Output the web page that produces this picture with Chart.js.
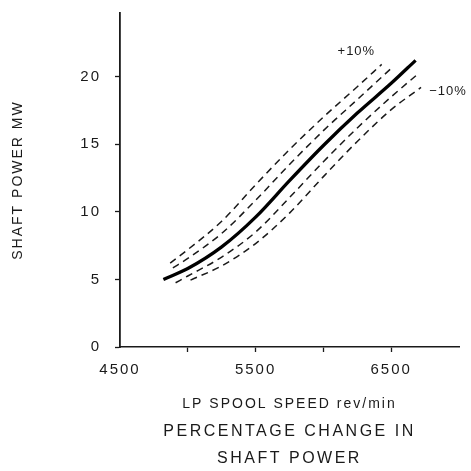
<!DOCTYPE html>
<html>
<head>
<meta charset="utf-8">
<script src="https://cdn.jsdelivr.net/npm/chart.js@4.4.1/dist/chart.umd.min.js"></script>
<style>
  html, body { margin: 0; padding: 0; background: #fff; }
  #wrap { width: 471px; height: 471px; }
</style>
</head>
<body>
<div id="wrap"><canvas id="powerChart"></canvas></div>
<script>
// LP spool speed (rev/min) and shaft power (MW)
const baseSpeed  = [4820, 5000, 5250, 5500, 5750, 6000, 6250, 6500, 6680];
const basePower  = [5.0, 5.8, 7.4, 9.6, 12.3, 14.9, 17.3, 19.5, 21.2];

const plus10Speed = [4870, 5000, 5250, 5500, 5750, 6000, 6250, 6430];
const plus10Power = [6.2, 7.2, 9.3, 12.0, 14.6, 17.0, 19.25, 20.9];

const plus5Speed  = [4890, 5000, 5250, 5500, 5750, 6000, 6250, 6510];
const plus5Power  = [5.85, 6.55, 8.4, 10.85, 13.5, 16.0, 18.3, 20.7];

const minus5Speed = [4910, 5000, 5250, 5500, 5750, 6000, 6250, 6500, 6710];
const minus5Power = [4.75, 5.25, 6.65, 8.5, 11.05, 13.7, 16.2, 18.5, 20.3];

const minus10Speed = [5020, 5250, 5500, 5750, 6000, 6250, 6500, 6720];
const minus10Power = [4.95, 6.0, 7.65, 9.9, 12.6, 15.2, 17.55, 19.2];

const xTickLabels = [4500, 5500, 6500];
const yTickValues = [0, 5, 10, 15, 20];

// text labels placed in data units
const curveLabels = [
  { text: '+10%', x: 6243, y: 21.85 },
  { text: '\u221210%', x: 6919, y: 18.9 }
];
const captionLines = ['PERCENTAGE CHANGE IN', 'SHAFT POWER'];

function pairs(xs, ys) {
  return xs.map((x, i) => ({ x: x, y: ys[i] }));
}

const ink = '#1a1a1a';

const dashed = (xs, ys) => ({
  data: pairs(xs, ys),
  borderColor: ink,
  borderWidth: 1.5,
  borderDash: [7, 5],
  pointRadius: 0,
  cubicInterpolationMode: 'monotone',
  fill: false
});

// letter spacing to mimic the old typeset look
const spacing = {
  id: 'spacing',
  beforeDraw(chart) {
    chart.ctx.letterSpacing = '2px';
  }
};

// +10% / -10% labels and the caption under the plot
const extraText = {
  id: 'extraText',
  afterDraw(chart) {
    const ctx = chart.ctx;
    const xs = chart.scales.x, ys = chart.scales.y;
    ctx.save();
    ctx.fillStyle = ink;
    ctx.textAlign = 'center';
    ctx.textBaseline = 'middle';
    ctx.letterSpacing = '1px';
    ctx.font = '13px "Liberation Sans", Arial, sans-serif';
    curveLabels.forEach(l => {
      ctx.fillText(l.text, xs.getPixelForValue(l.x), ys.getPixelForValue(l.y));
    });
    ctx.letterSpacing = '2.5px';
    ctx.font = '16px "Liberation Sans", Arial, sans-serif';
    const cx = (chart.chartArea.left + chart.chartArea.right) / 2;
    ctx.fillText(captionLines[0], cx, 432);
    ctx.fillText(captionLines[1], cx, 459);
    ctx.restore();
  }
};

const ctx = document.getElementById('powerChart').getContext('2d');

const powerChart = new Chart(ctx, {
  type: 'line',
  data: {
    datasets: [
      {
        data: pairs(baseSpeed, basePower),
        borderColor: '#000',
        borderWidth: 3.3,
        pointRadius: 0,
        cubicInterpolationMode: 'monotone',
        fill: false
      },
      dashed(plus10Speed, plus10Power),
      dashed(plus5Speed, plus5Power),
      dashed(minus5Speed, minus5Power),
      dashed(minus10Speed, minus10Power)
    ]
  },
  options: {
    responsive: true,
    maintainAspectRatio: false,
    animation: false,
    layout: {
      padding: { left: 0, right: 12, top: 13, bottom: 56 }
    },
    plugins: {
      legend: { display: false },
      tooltip: { enabled: false }
    },
    scales: {
      x: {
        type: 'linear',
        min: 4500,
        max: 7000,
        afterFit: scale => {
          scale.height = 68;
          scale.paddingLeft = 0;
          scale.paddingRight = 0;
        },
        afterBuildTicks: scale => {
          scale.ticks = scale.ticks.filter(t => t.value < 7000);
        },
        ticks: {
          stepSize: 500,
          padding: 9,
          color: ink,
          maxRotation: 0,
          font: { family: '"Liberation Sans", Arial, sans-serif', size: 15 },
          callback: v => (xTickLabels.includes(v) ? String(v) : '')
        },
        grid: {
          drawOnChartArea: false,
          drawTicks: true,
          tickLength: 5,
          tickWidth: 1.3,
          tickColor: c => (c.tick && c.tick.value === 4500 ? 'rgba(0,0,0,0)' : ink)
        },
        border: { color: ink, width: 1.6 },
        title: {
          display: true,
          text: 'LP SPOOL SPEED rev/min',
          color: ink,
          font: { family: '"Liberation Sans", Arial, sans-serif', size: 14 },
          padding: { top: 0, bottom: 2 }
        }
      },
      y: {
        type: 'linear',
        min: 0,
        max: 24.7,
        afterFit: scale => {
          scale.width = 120;
          scale.paddingTop = 0;
          scale.paddingBottom = 0;
        },
        afterBuildTicks: scale => {
          scale.ticks = scale.ticks.filter(t => yTickValues.includes(t.value));
        },
        ticks: {
          stepSize: 5,
          padding: 14,
          color: ink,
          font: { family: '"Liberation Sans", Arial, sans-serif', size: 15 }
        },
        grid: {
          drawOnChartArea: false,
          drawTicks: true,
          tickLength: 5,
          tickWidth: 1.3,
          tickColor: ink
        },
        border: { color: ink, width: 1.8 },
        title: {
          display: true,
          text: 'SHAFT POWER MW',
          color: ink,
          font: { family: '"Liberation Sans", Arial, sans-serif', size: 14 },
          padding: { top: 10, bottom: 0 }
        }
      }
    }
  },
  plugins: [spacing, extraText]
});
</script>
</body>
</html>
